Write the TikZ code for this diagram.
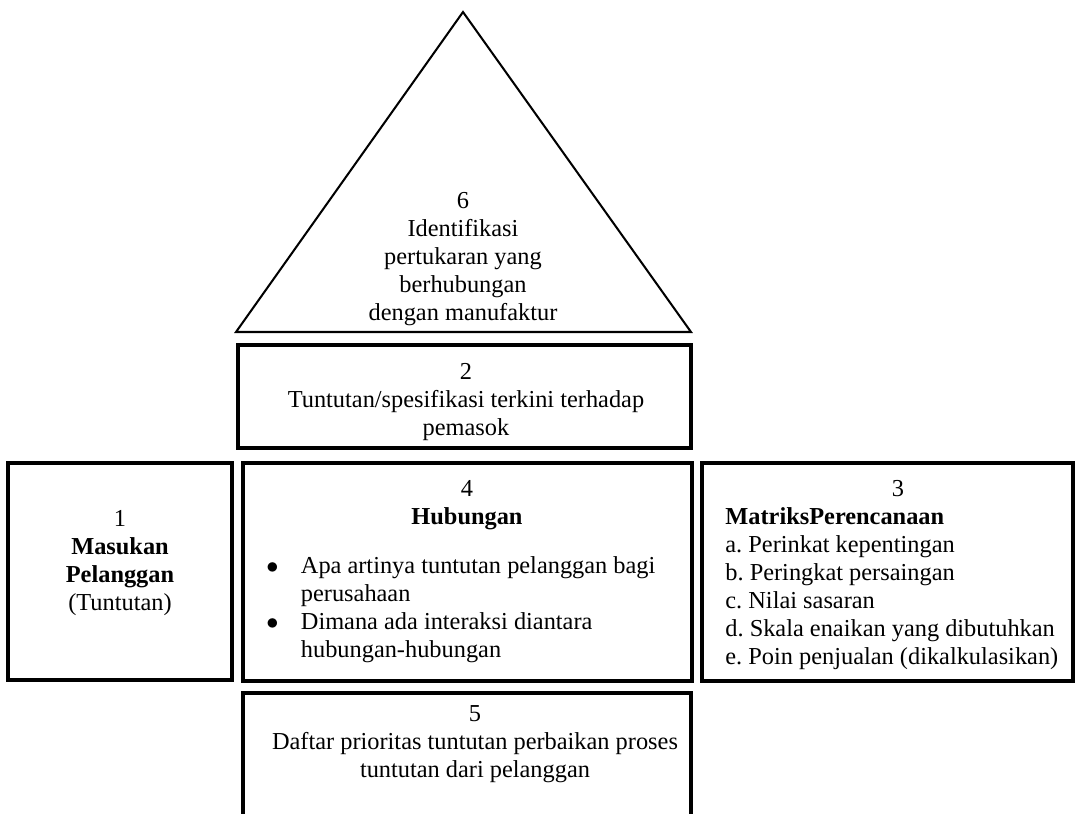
\documentclass[tikz,border=0pt]{standalone}
\usepackage{fontspec}
\setmainfont{Liberation Serif}
\usetikzlibrary
  {
    fit,          % boxes round given corners
    positioning,  % place nodes relative to other nodes
  }
\frenchspacing

\begin{document}
\begin{tikzpicture}
    [
      x=0.4926pt,
      y=-0.4926pt,
      every node/.style=
        {
          inner sep=0pt,
          font=\fontsize{12}{13.8}\selectfont,
        },
      housebox/.style=
        {
          rectangle,
          draw,
          line width=1.5pt,
          inner sep=0pt,
        },
      roofline/.style=
        {
          draw,
          line width=1pt,
          line join=miter,
        },
      caption/.style=
        {
          align=center,
        },
      listing/.style=
        {
          align=left,
          anchor=west,
        },
    ]
    \clip (0,0) rectangle (1075,814);

    % roof of the house
    \coordinate (apex) at (463,12);
    \coordinate (eaveL) at (236,332);
    \coordinate (eaveR) at (691,332);
    \path [roofline] (eaveL) -- (apex) -- (eaveR) -- cycle;
    \node (tradeoff) [caption] at (463,259)
      {6\\Identifikasi\\pertukaran yang\\berhubungan\\dengan manufaktur};

    % the rooms
    \node (supplier) [housebox, fit={(238,345) (691,448)}] {};
    \node (customer) [housebox, fit={(8,463) (232,680)}] {};
    \node (relation) [housebox, fit={(243,463) (692,681)}] {};
    \node (planning) [housebox, fit={(702,463) (1073,681)}] {};
    \node (priority) [housebox, fit={(243,693) (691,840)}] {};

    \node (supplier text) [caption] at (466,402)
      {2\\Tuntutan/spesifikasi terkini terhadap\\pemasok};
    \node (customer text) [caption] at (120,563)
      {1\\\textbf{Masukan}\\\textbf{Pelanggan}\\(Tuntutan)};

    \node (relation head) [caption] at (467,505) {4\\\textbf{Hubungan}};
    \node (relation list) [listing] at (266,610)
      {\begin{tabular}{@{}l@{\hspace{11pt}}l@{}}
         $\bullet$ & Apa artinya tuntutan pelanggan bagi\\
                   & perusahaan\\
         $\bullet$ & Dimana ada interaksi diantara\\
                   & hubungan-hubungan
       \end{tabular}};

    \node (planning head) [caption] at (898,489) {3};
    \node (planning list) [listing] at (725,589)
      {\textbf{MatriksPerencanaan}\\
       a. Perinkat kepentingan\\
       b. Peringkat persaingan\\
       c. Nilai sasaran\\
       d. Skala enaikan yang dibutuhkan\\
       e. Poin penjualan (dikalkulasikan)};

    \node (priority text) [caption] at (475,744)
      {5\\Daftar prioritas tuntutan perbaikan proses\\tuntutan dari pelanggan};
  \end{tikzpicture}
\end{document}
